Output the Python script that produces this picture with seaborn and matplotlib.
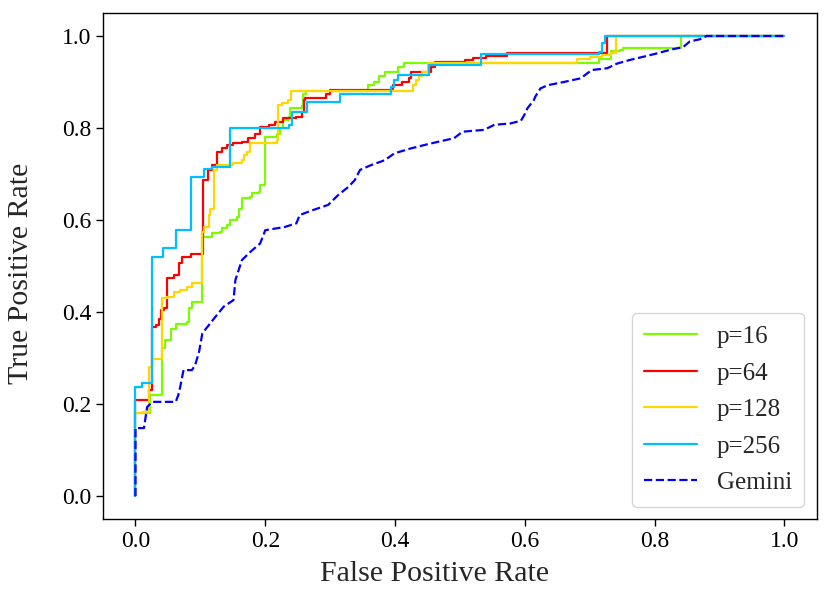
import matplotlib
matplotlib.use("Agg")
import matplotlib.pyplot as plt
import seaborn as sns

# ROC corner points (fpr, tpr)
fpr_16 = [0, 0, 0.023, 0.041, 0.046, 0.054, 0.062, 0.080, 0.082, 0.087, 0.102, 0.118, 0.130,
          0.133, 0.141, 0.146, 0.156, 0.160, 0.164, 0.177, 0.180, 0.190, 0.192, 0.200, 0.200,
          0.218, 0.222, 0.228, 0.236, 0.238, 0.256, 0.258, 0.262, 0.358, 0.368, 0.376, 0.385,
          0.405, 0.413, 0.714, 0.732, 0.747, 0.752, 0.841, 1.0]
tpr_16 = [0, 0.180, 0.220, 0.321, 0.339, 0.364, 0.375, 0.379, 0.410, 0.422, 0.564, 0.571, 0.575,
          0.582, 0.589, 0.600, 0.607, 0.625, 0.647, 0.651, 0.658, 0.662, 0.676, 0.687, 0.781,
          0.788, 0.800, 0.817, 0.825, 0.843, 0.847, 0.875, 0.880, 0.893, 0.900, 0.912, 0.922,
          0.933, 0.942, 0.951, 0.968, 0.970, 0.974, 1.0, 1.0]

fpr_64 = [0, 0, 0.021, 0.026, 0.031, 0.036, 0.039, 0.044, 0.049, 0.059, 0.067, 0.072, 0.085,
          0.104, 0.112, 0.118, 0.126, 0.134, 0.141, 0.151, 0.164, 0.174, 0.184, 0.192, 0.205,
          0.215, 0.228, 0.248, 0.256, 0.259, 0.261, 0.294, 0.299, 0.394, 0.397, 0.410, 0.422,
          0.425, 0.455, 0.461, 0.507, 0.520, 0.540, 0.573, 0.727, 1.0]
tpr_64 = [0, 0.209, 0.230, 0.368, 0.372, 0.386, 0.404, 0.408, 0.474, 0.480, 0.506, 0.520, 0.527,
          0.687, 0.709, 0.720, 0.748, 0.756, 0.763, 0.767, 0.770, 0.778, 0.788, 0.803, 0.807,
          0.814, 0.821, 0.825, 0.835, 0.861, 0.865, 0.874, 0.883, 0.885, 0.893, 0.900, 0.908,
          0.922, 0.933, 0.943, 0.948, 0.953, 0.957, 0.962, 1.0, 1.0]

fpr_128 = [0, 0, 0.011, 0.021, 0.026, 0.041, 0.049, 0.059, 0.069, 0.079, 0.087, 0.102, 0.105,
           0.113, 0.115, 0.121, 0.126, 0.150, 0.164, 0.167, 0.172, 0.177, 0.218, 0.220, 0.226,
           0.235, 0.240, 0.427, 0.432, 0.437, 0.442, 0.450, 0.680, 0.700, 0.719, 0.732, 0.741, 1.0]
tpr_128 = [0, 0.180, 0.183, 0.281, 0.299, 0.430, 0.433, 0.444, 0.448, 0.455, 0.464, 0.575, 0.585,
           0.611, 0.625, 0.709, 0.720, 0.725, 0.730, 0.741, 0.748, 0.767, 0.774, 0.850, 0.855,
           0.861, 0.880, 0.893, 0.905, 0.912, 0.922, 0.942, 0.950, 0.955, 0.959, 0.963, 1.0, 1.0]

fpr_256 = [0, 0, 0.010, 0.025, 0.043, 0.063, 0.086, 0.105, 0.118, 0.146, 0.236, 0.241, 0.264,
           0.315, 0.394, 0.399, 0.404, 0.452, 0.532, 0.714, 0.719, 0.724, 1.0]
tpr_256 = [0, 0.237, 0.246, 0.520, 0.540, 0.578, 0.694, 0.710, 0.716, 0.800, 0.807, 0.835, 0.857,
           0.874, 0.890, 0.905, 0.915, 0.938, 0.960, 0.966, 0.985, 1.0, 1.0]

fpr_gem = [0, 0, 0.013, 0.018, 0.026, 0.062, 0.066, 0.069, 0.074, 0.087, 0.092, 0.098, 0.103,
           0.121, 0.136, 0.151, 0.154, 0.164, 0.177, 0.192, 0.200, 0.230, 0.248, 0.253, 0.274,
           0.297, 0.312, 0.328, 0.338, 0.346, 0.364, 0.384, 0.399, 0.425, 0.445, 0.466, 0.491,
           0.504, 0.537, 0.553, 0.578, 0.594, 0.599, 0.604, 0.614, 0.616, 0.624, 0.635, 0.660,
           0.686, 0.703, 0.727, 0.742, 0.762, 0.783, 0.803, 0.824, 0.844, 0.854, 0.870, 0.880, 1.0]
tpr_gem = [0, 0.148, 0.148, 0.194, 0.205, 0.205, 0.220, 0.238, 0.274, 0.274, 0.285, 0.314, 0.354,
           0.386, 0.412, 0.426, 0.470, 0.513, 0.531, 0.549, 0.578, 0.585, 0.593, 0.611, 0.622,
           0.633, 0.654, 0.672, 0.687, 0.709, 0.720, 0.730, 0.745, 0.756, 0.763, 0.770, 0.778,
           0.792, 0.796, 0.807, 0.810, 0.816, 0.828, 0.843, 0.861, 0.868, 0.886, 0.893, 0.900,
           0.908, 0.926, 0.930, 0.940, 0.948, 0.955, 0.962, 0.970, 0.976, 0.988, 0.993, 1.0, 1.0]

sns.set_style("ticks")
plt.rcParams["font.family"] = ["Liberation Serif", "DejaVu Serif"]
plt.rcParams["axes.edgecolor"] = "black"
plt.rcParams["xtick.color"] = "black"
plt.rcParams["ytick.color"] = "black"

fig, ax = plt.subplots(figsize=(8.31, 5.9), dpi=100)
fig.subplots_adjust(left=0.124, right=0.983, bottom=0.12, top=0.978)

curves = [
    (fpr_16, tpr_16, "p=16", "#7cfc00"),
    (fpr_64, tpr_64, "p=64", "#ff0000"),
    (fpr_128, tpr_128, "p=128", "#ffd700"),
    (fpr_256, tpr_256, "p=256", "#00bfff"),
]
for fpr, tpr, name, col in curves:
    sns.lineplot(x=fpr, y=tpr, sort=False, estimator=None, ax=ax, color=col,
                 linewidth=1.6, drawstyle="steps-post", label=name)

sns.lineplot(x=fpr_gem, y=tpr_gem, sort=False, estimator=None, ax=ax, color="#0000ff",
             linewidth=1.6, linestyle="--", label="Gemini")

ax.set_xlim(-0.05, 1.05)
ax.set_ylim(-0.05, 1.05)
ax.set_xticks([0, 0.2, 0.4, 0.6, 0.8, 1.0])
ax.set_yticks([0, 0.2, 0.4, 0.6, 0.8, 1.0])
ax.tick_params(labelsize=17, length=5, width=1)
for s in ax.spines.values():
    s.set_linewidth(1)
ax.set_xlabel("False Positive Rate", fontsize=21.5)
ax.set_ylabel("True Positive Rate", fontsize=21.5)
ax.xaxis.set_label_coords(0.464, -0.083)
ax.yaxis.set_label_coords(-0.097, 0.485)
ax.legend(loc="lower right", fontsize=18, labelspacing=0.56, handlelength=2.1,
          borderpad=0.5)

fig.savefig("out.png", dpi=100)
